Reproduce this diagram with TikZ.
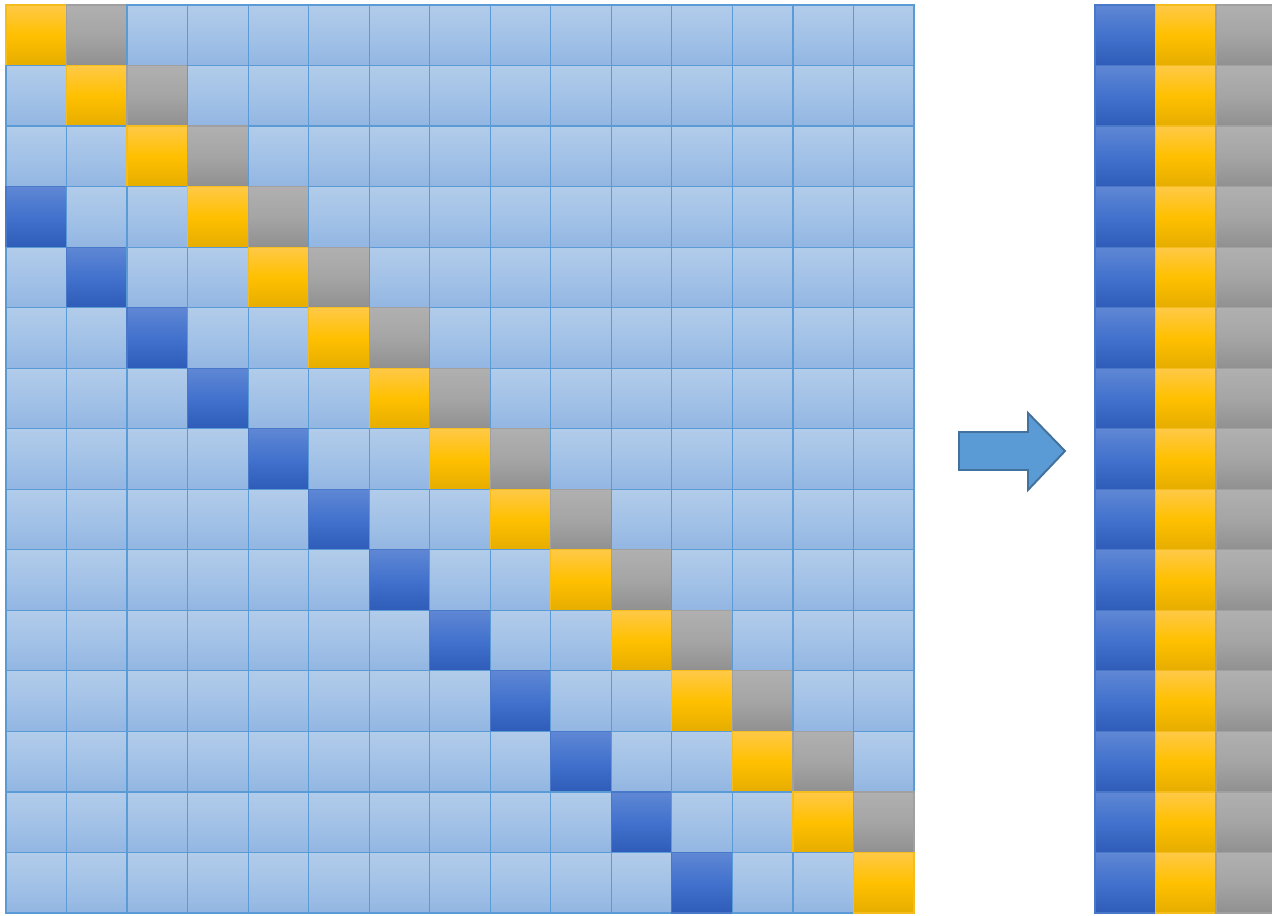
\documentclass[tikz,border=0pt]{standalone}
\begin{document}
% gradient stops and borders for the four cell kinds
\definecolor{lbT}{HTML}{B2CCEA}\definecolor{lbM}{HTML}{A3C2E7}\definecolor{lbB}{HTML}{92B6E2}\definecolor{lbD}{HTML}{5B9BD5}
\definecolor{gdT}{HTML}{FFC947}\definecolor{gdM}{HTML}{FFC000}\definecolor{gdB}{HTML}{E6AD00}\definecolor{gdD}{HTML}{F5BC1E}
\definecolor{gyT}{HTML}{B0B0B0}\definecolor{gyM}{HTML}{A5A5A5}\definecolor{gyB}{HTML}{909090}\definecolor{gyD}{HTML}{A0A0A0}
\definecolor{dbT}{HTML}{5F87D4}\definecolor{dbM}{HTML}{4272CD}\definecolor{dbB}{HTML}{2E5CB8}\definecolor{dbD}{HTML}{4A78C8}
\definecolor{arF}{HTML}{5B9BD5}\definecolor{arD}{HTML}{41719C}
\tikzset{
  cell/.style={minimum width=1.2106cm, minimum height=1.2106cm, inner sep=0pt, outer sep=0pt,
               line width=0.7pt, anchor=north west},
  lb/.style={cell, draw=lbD, top color=lbT, bottom color=lbB, middle color=lbM},
  gd/.style={cell, draw=gdD, top color=gdT, bottom color=gdB, middle color=gdM},
  gy/.style={cell, draw=gyD, top color=gyT, bottom color=gyB, middle color=gyM},
  db/.style={cell, draw=dbD, top color=dbT, bottom color=dbB, middle color=dbM},
  bigarrow/.style={fill=arF, draw=arD, line width=1.1pt, line join=miter}
}
\begin{tikzpicture}
\useasboundingbox (0,0) rectangle (25.44,-18.30);
% 15 x 15 matrix
\foreach \r in {0,...,14}{
  \foreach \c in {0,...,14}{
    \pgfmathtruncatemacro\d{\c-\r}
    \ifnum\d=0 \def\sty{gd}\else\ifnum\d=1 \def\sty{gy}\else\ifnum\d=-3 \def\sty{db}\else\def\sty{lb}\fi\fi\fi
    \node[\sty] (m-\r-\c) at ({0.12+\c*1.2106},{-0.10-\r*1.2106}) {};
  }
}
% compact three-column form
\foreach \r in {0,...,14}{
  \node[db] (k-\r-0) at ({21.90},{-0.10-\r*1.2106}) {};
  \node[gd] (k-\r-1) at ({21.90+1.2106},{-0.10-\r*1.2106}) {};
  \node[gy] (k-\r-2) at ({21.90+2*1.2106},{-0.10-\r*1.2106}) {};
}
% block arrow between the two forms
\draw[bigarrow] (19.18,-8.64) -- (20.56,-8.64) -- (20.56,-8.26) -- (21.30,-9.02)
  -- (20.56,-9.80) -- (20.56,-9.40) -- (19.18,-9.40) -- cycle;
\end{tikzpicture}
\end{document}
